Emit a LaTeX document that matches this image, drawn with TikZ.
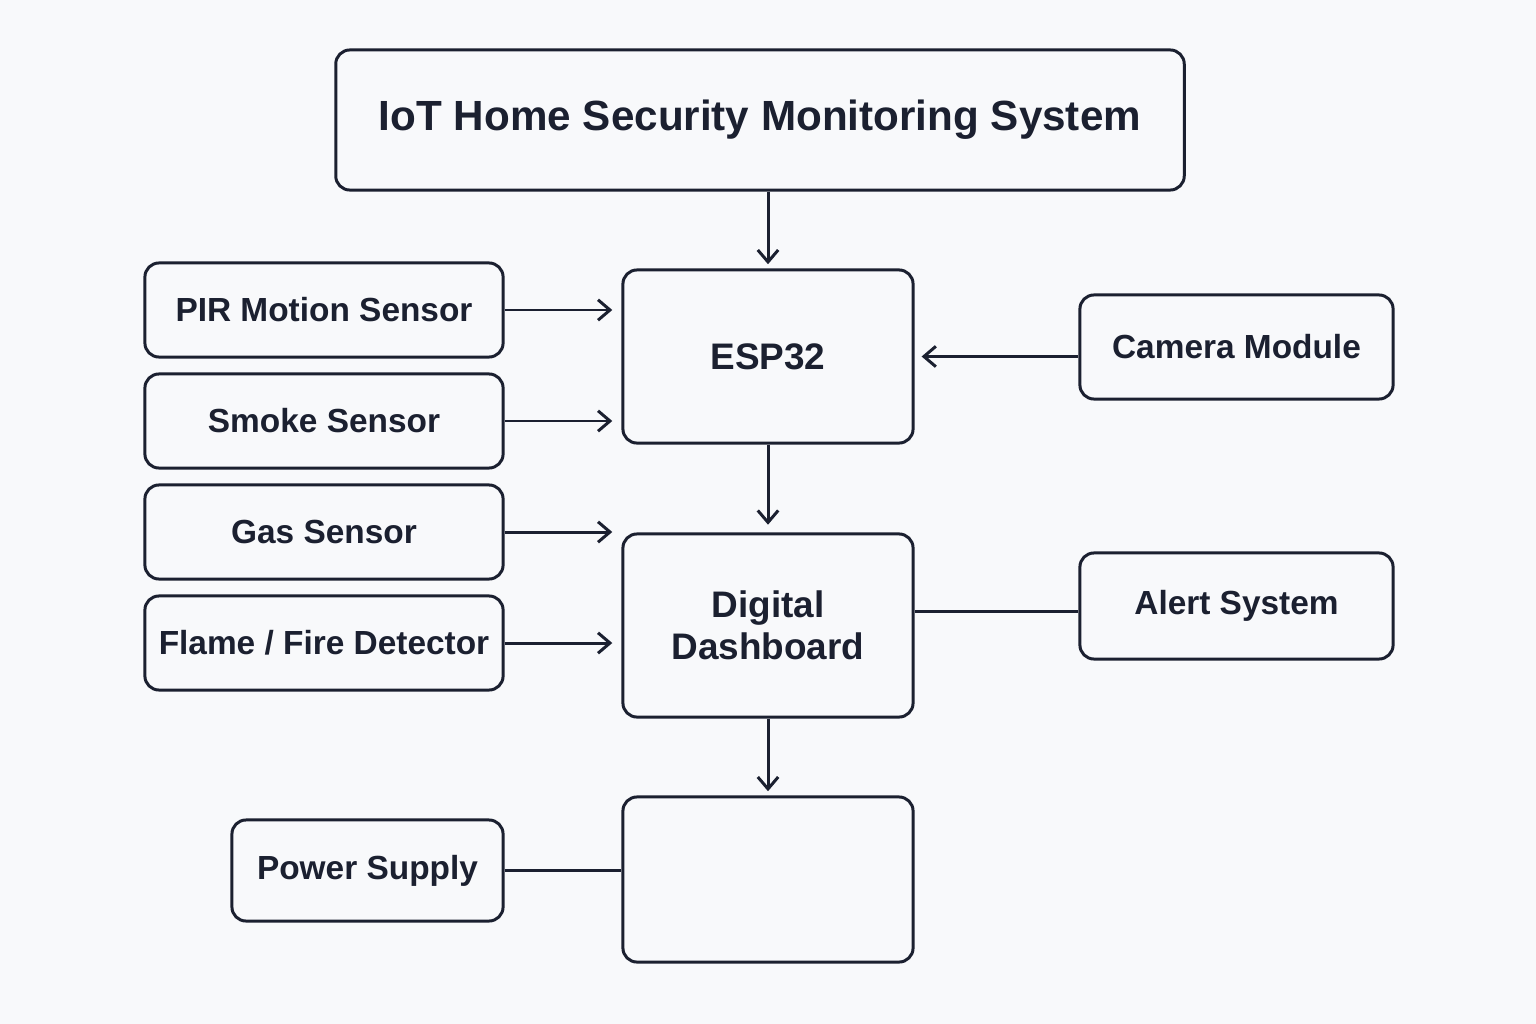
\documentclass[tikz,border=0pt]{standalone}
\usepackage{fontspec}
\setmainfont{Liberation Sans}
\usetikzlibrary{arrows.meta}
\definecolor{ink}{HTML}{1B2030}
\definecolor{paper}{HTML}{F8F9FB}

\begin{document}
\begin{tikzpicture}[x=0.01cm,y=-0.01cm,
    box/.style={draw=ink, line width=0.85pt, rounded corners=4pt, inner sep=0pt,
                text=ink, align=center, font=\bfseries\fontsize{9.5}{11.5}\selectfont},
    link/.style={draw=ink, line width=0.85pt},
    arr/.style={link, -{Straight Barb[length=3.4pt,width=5.8pt,line width=0.85pt]}, shorten >=2.6pt}]
    % Draw the page
    \fill[paper] (0,0) rectangle (1536,1024);

    % Draw the main blocks
    \node[box, minimum width=8.48cm, minimum height=1.40cm,
          font=\bfseries\fontsize{12}{14}\selectfont] (title) at (760,120) {IoT Home Security Monitoring System};
    \node[box, minimum width=2.90cm, minimum height=1.73cm,
          font=\bfseries\fontsize{10.5}{12}\selectfont] (esp) at (768,356.5) {ESP32};
    \node[box, minimum width=2.90cm, minimum height=1.83cm,
          font=\bfseries\fontsize{10.5}{12}\selectfont] (dash) at (768,625.5) {Digital\\Dashboard};
    \node[box, minimum width=2.90cm, minimum height=1.65cm] (unit) at (768,879.5) {};

    % Draw the sensors on the left
    \foreach \name/\y/\label in {pir/310/{PIR Motion Sensor}, smoke/421/{Smoke Sensor},
                                 gas/532/{Gas Sensor}, flame/643/{Flame / Fire Detector}} {
        \node[box, minimum width=3.58cm, minimum height=0.94cm] (\name) at (324,\y) {\label};
    }
    \node[box, minimum width=2.71cm, minimum height=1.01cm] (power) at (367.5,870.5) {Power Supply};

    % Draw the blocks on the right
    \node[box, minimum width=3.13cm, minimum height=1.04cm] (camera) at (1236.5,347) {Camera Module};
    \node[box, minimum width=3.13cm, minimum height=1.06cm] (alert) at (1236.5,606) {Alert System};

    % Draw the connectors
    \draw[arr, shorten >=1.2pt] (title.south -| esp.north) -- (esp.north);
    \draw[arr, shorten >=2.2pt] (esp.south) -- (dash.north);
    \draw[arr, shorten >=1.2pt] (dash.south) -- (unit.north);
    \foreach \name in {pir,smoke} {
        \draw[arr] (\name.east) -- (\name.east -| esp.west);
    }
    \foreach \name in {gas,flame} {
        \draw[arr] (\name.east) -- (\name.east -| dash.west);
    }
    \draw[arr, shorten >=2pt] (esp.east -| camera.west) -- (esp.east);
    \draw[link] ([yshift=-1.7pt]alert.west) -- ([yshift=-1.7pt]alert.west -| dash.east);
    \draw[link] (power.east) -- (power.east -| unit.west);
\end{tikzpicture}
\end{document}
